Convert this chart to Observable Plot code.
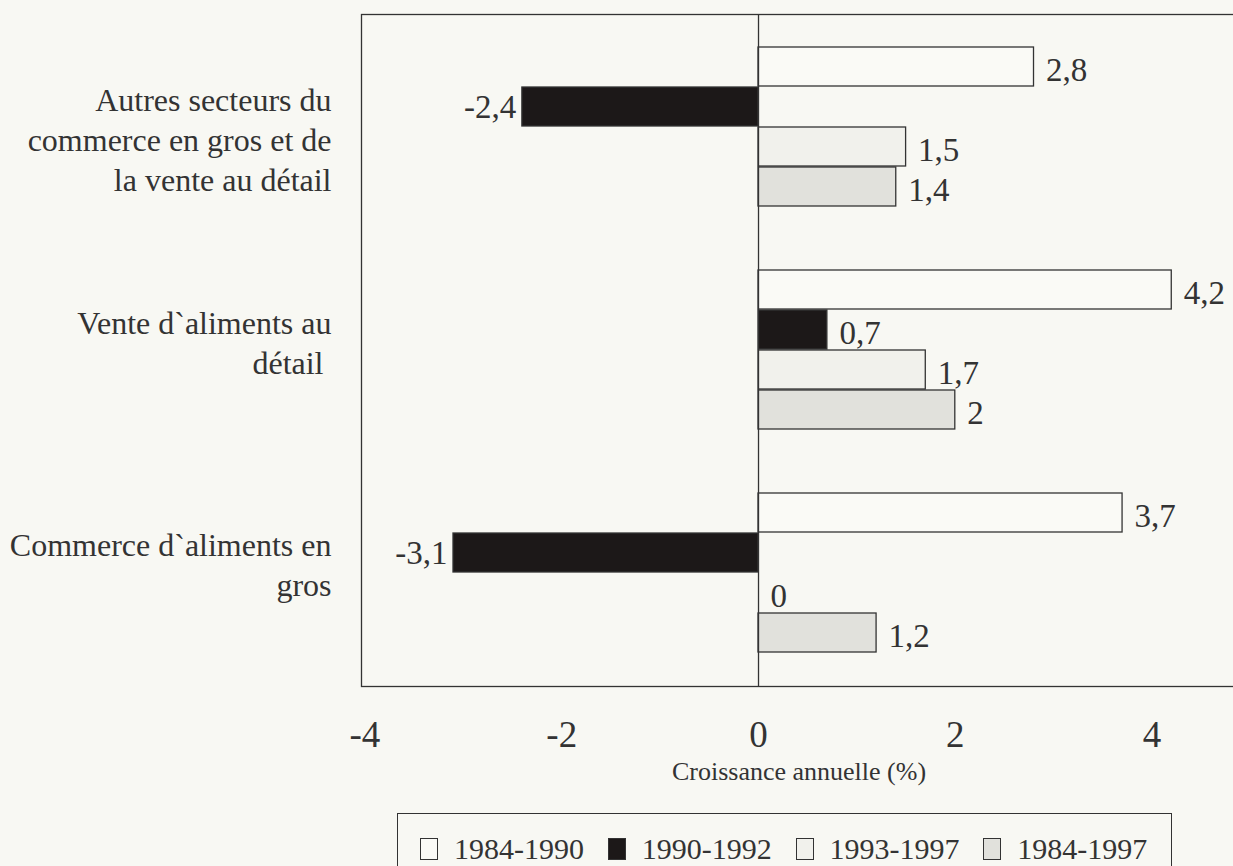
<!DOCTYPE html>
<html>
<head>
<meta charset="utf-8">
<script src="https://cdn.jsdelivr.net/npm/d3@7"></script>
<script src="https://cdn.jsdelivr.net/npm/@observablehq/plot@0.6"></script>
<style>
  html, body { margin: 0; padding: 0; background: #f8f8f3; overflow: hidden; }
  #wrap { position: relative; width: 1233px; height: 866px; overflow: hidden; }
  #chart { position: absolute; left: 0; top: 0; }
  #chart svg { max-width: none !important; }
  #legend {
    position: absolute; left: 397px; top: 813px; width: 775px; height: 70px;
    border: 1.5px solid #333; box-sizing: border-box;
    font-family: "Liberation Serif", serif; font-size: 30px; color: #333;
    display: flex; align-items: flex-start; padding-left: 22px; padding-top: 18px;
  }
  .item { display: flex; align-items: center; width: 191px; line-height: 34px; }
  .sw { width: 18px; height: 22px; border: 1.4px solid #333; box-sizing: border-box; margin-right: 16px; }
</style>
</head>
<body>
<div id="wrap">
  <div id="chart"></div>
  <div id="legend"></div>
</div>
<script>
// ---- data ----
const categories = [
  "Autres secteurs du commerce en gros et de la vente au détail",
  "Vente d`aliments au détail",
  "Commerce d`aliments en gros"
];
const categoryLabels = [
  "Autres secteurs du\ncommerce en gros et de\nla vente au détail",
  "Vente d`aliments au\ndétail\u00a0",
  "Commerce d`aliments en\ngros"
];
const periods = ["1984-1990", "1990-1992", "1993-1997", "1984-1997"];
const values1984_1990 = [2.8, 4.2, 3.7];
const values1990_1992 = [-2.4, 0.7, -3.1];
const values1993_1997 = [1.5, 1.7, 0];
const values1984_1997 = [1.4, 2.0, 1.2];
const xTicks = [-4, -2, 0, 2, 4];
const xLabel = "Croissance annuelle (%)";

// ---- styles ----
const fills = ["#fafaf6", "#1c1818", "#f1f1ec", "#e1e1dc"];
const ink = "#333";
const labelShift = [11, -9, -10];
const seriesValues = [values1984_1990, values1990_1992, values1993_1997, values1984_1997];

const rows = categories.flatMap((c, i) =>
  periods.map((p, j) => ({category: c, period: p, value: seriesValues[j][i]}))
);

const bandwidth = 160;
const slot = bandwidth / periods.length;
const fmt = v => String(v).replace(".", ",");

const marks = [];
periods.forEach((p, j) => {
  const sub = rows.filter(d => d.period === p);
  marks.push(Plot.barX(sub, {
    x: "value", y: "category", fill: fills[j], stroke: ink, strokeWidth: 1.3,
    insetTop: slot * j, insetBottom: slot * (periods.length - 1 - j)
  }));
  const dy = -bandwidth / 2 + slot * (j + 0.5);
  marks.push(Plot.text(sub.filter(d => d.value >= 0), {
    x: "value", y: "category", text: d => fmt(d.value),
    textAnchor: "start", dx: 12, dy: dy + 3, fontSize: 33, fill: ink
  }));
  marks.push(Plot.text(sub.filter(d => d.value < 0), {
    x: "value", y: "category", text: d => fmt(d.value),
    textAnchor: "end", dx: -6, dy: dy, fontSize: 33, fill: ink
  }));
});

const catMarks = categories.map((c, i) => Plot.text([c], {
  y: d => d, text: () => categoryLabels[i],
  frameAnchor: "left", textAnchor: "end", dx: -30, dy: labelShift[i],
  lineAnchor: "middle", lineHeight: 1.25, fontSize: 32, fill: ink
}));

const chart = Plot.plot({
  width: 1245,
  height: 800,
  marginLeft: 361,
  marginRight: 9,
  marginTop: 14,
  marginBottom: 114,
  style: {fontFamily: "Liberation Serif, serif", fontSize: "37px", background: "transparent", color: ink, maxWidth: "none"},
  x: {domain: [-4.035, 4.858], ticks: xTicks, tickSize: 0, tickPadding: 34, tickFormat: d => String(d), label: null},
  y: {domain: categories, axis: null, paddingInner: 0.2857, paddingOuter: 0.1429},
  marks: [
    ...marks,
    Plot.ruleX([0], {stroke: ink, strokeWidth: 1.3}),
    Plot.frame({stroke: ink, strokeWidth: 1.3}),
    ...catMarks,
    Plot.text([xLabel], {frameAnchor: "bottom", dy: 93, fontSize: 26, fill: ink})
  ]
});
document.getElementById("chart").appendChild(chart);

const legend = document.getElementById("legend");
periods.forEach((p, j) => {
  const item = document.createElement("div");
  item.className = "item";
  const sw = document.createElement("div");
  sw.className = "sw";
  sw.style.background = fills[j];
  const t = document.createElement("span");
  t.textContent = p;
  item.appendChild(sw);
  item.appendChild(t);
  legend.appendChild(item);
});
</script>
</body>
</html>
